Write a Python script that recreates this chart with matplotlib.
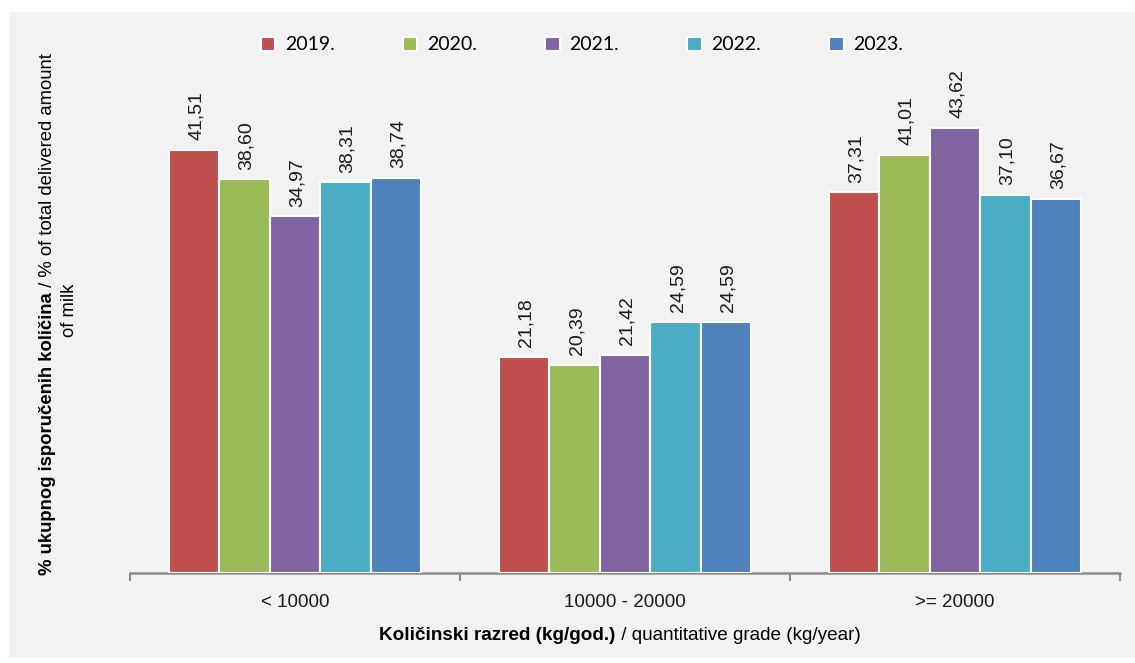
import matplotlib
matplotlib.use("Agg")
import matplotlib.pyplot as plt
from matplotlib.patches import Rectangle
import numpy as np

categories = ["< 10000", "10000 - 20000", ">= 20000"]
years = ["2019.", "2020.", "2021.", "2022.", "2023."]
v2019 = [41.51, 21.18, 37.31]
v2020 = [38.60, 20.39, 41.01]
v2021 = [34.97, 21.42, 43.62]
v2022 = [38.31, 24.59, 37.10]
v2023 = [38.74, 24.59, 36.67]
series = [v2019, v2020, v2021, v2022, v2023]
colors = ["#C0504D", "#9BBB59", "#8064A2", "#4BACC6", "#4F81BD"]

W, H = 1135, 663
plt.rcParams['font.family'] = ['Liberation Sans', 'DejaVu Sans']

fig = plt.figure(figsize=(W / 100, H / 100), dpi=100)
fig.patch.set_facecolor("white")
# grey panel behind the chart
fig.patches.append(Rectangle((9 / W, 1 - 658 / H), 1 - 9 / W, (658 - 12) / H,
                             transform=fig.transFigure, facecolor="#F2F2F2",
                             edgecolor="none", zorder=-5))

ax = fig.add_axes([130 / W, 90 / H, 990 / W, 510 / H])
ax.set_facecolor("none")
ax.set_zorder(2)

x = np.arange(len(categories))
bw = 0.153
for i, (vals, c) in enumerate(zip(series, colors)):
    pos = x + (i - 2) * bw
    bars = ax.bar(pos, vals, bw, color=c, edgecolor="white", linewidth=1.5,
                  label=years[i], zorder=3)
    for b, v in zip(bars, vals):
        ax.annotate(f"{v:.2f}".replace(".", ","),
                    (b.get_x() + b.get_width() / 2, v),
                    xytext=(1.5, 7), textcoords="offset points",
                    rotation=90, ha="center", va="bottom", fontsize=14,
                    color="#1a1a1a")

ax.set_xlim(-0.5, 2.5)
ax.set_ylim(0, 50)
for s in ["top", "right", "left"]:
    ax.spines[s].set_visible(False)
ax.spines["bottom"].set_color("#8c8c8c")
ax.spines["bottom"].set_linewidth(1.8)
ax.set_yticks([])
ax.set_xticks([-0.5, 0.5, 1.5, 2.5])
ax.set_xticklabels([])
ax.tick_params(axis="x", which="major", length=6, width=1.5, color="#8c8c8c")
ax.set_xticks(x, minor=True)
ax.set_xticklabels(categories, minor=True, fontsize=13.5, color="#1a1a1a")
ax.tick_params(axis="x", which="minor", length=0, pad=15)

leg = fig.legend(loc="center", bbox_to_anchor=(582 / W, 1 - 45 / H), ncol=5,
                 frameon=False, handlelength=0.75, handleheight=0.75,
                 columnspacing=3.5, handletextpad=0.5,
                 prop={"family": ["Lato", "DejaVu Sans"], "size": 14})

fig.canvas.draw()
r = fig.canvas.get_renderer()


def two_part(bold, normal, cx, cy, size, rotation):
    t1 = fig.text(0, 0, bold, fontsize=size, fontweight="bold", rotation=rotation)
    t2 = fig.text(0, 0, normal, fontsize=size, rotation=rotation)
    e1 = t1.get_window_extent(r)
    e2 = t2.get_window_extent(r)
    if rotation == 90:
        l1 = e1.height / H
        l2 = e2.height / H
        y0 = cy - (l1 + l2) / 2
        for t, y in ((t1, y0), (t2, y0 + l1)):
            t.set_position((cx, y))
            t.set_ha("center")
            t.set_va("bottom")
    else:
        l1 = e1.width / W
        l2 = e2.width / W
        x0 = cx - (l1 + l2) / 2
        for t, xx in ((t1, x0), (t2, x0 + l1)):
            t.set_position((xx, cy))
            t.set_ha("left")
            t.set_va("center")


two_part("% ukupnog isporučenih količina", " / % of total delivered amount",
         48 / W, 1 - 314 / H, 13.3, 90)
fig.text(69 / W, 1 - 310 / H, "of milk", fontsize=13.3, rotation=90,
         ha="center", va="center")
two_part("Količinski razred (kg/god.)", " / quantitative grade (kg/year)",
         620 / W, 1 - 636 / H, 13.6, 0)

fig.savefig("out.png", dpi=100)
